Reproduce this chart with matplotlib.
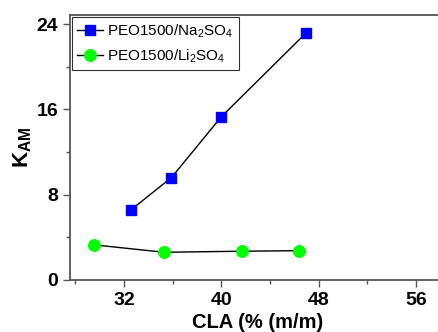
import matplotlib
matplotlib.use("Agg")
import matplotlib.pyplot as plt
from matplotlib.ticker import MultipleLocator

# données
cla_na = [32.6, 35.9, 40.0, 47.0]
kam_na = [6.6, 9.6, 15.3, 23.2]
cla_li = [29.5, 35.3, 41.7, 46.4]
kam_li = [3.3, 2.6, 2.7, 2.75]

plt.rcParams['font.family'] = ['Liberation Sans', 'DejaVu Sans']
plt.rcParams['mathtext.fontset'] = 'custom'
plt.rcParams['mathtext.rm'] = 'Liberation Sans'
plt.rcParams['mathtext.bf'] = 'Liberation Sans:bold'

fig = plt.figure(figsize=(4.38, 3.32), dpi=100)
ax = fig.add_axes([70 / 438, 52 / 332, 375 / 438, 265 / 332])

ax.plot(cla_na, kam_na, color='black', lw=1.0, marker='s', ms=7.5,
        mfc='#0000ff', mec='#0000ff', label='PEO1500/Na$_2$SO$_4$')
ax.plot(cla_li, kam_li, color='black', lw=1.0, marker='o', ms=8.3,
        mfc='#00ff00', mec='#00ff00', label='PEO1500/Li$_2$SO$_4$')

ax.set_xlim(27.56, 58.4)
ax.set_ylim(0, 24.85)
ax.xaxis.set_major_locator(MultipleLocator(8))
ax.xaxis.set_minor_locator(MultipleLocator(4))
ax.yaxis.set_major_locator(MultipleLocator(8))
ax.yaxis.set_minor_locator(MultipleLocator(4))
ax.set_xticks([32, 40, 48, 56])

for s in ax.spines.values():
    s.set_color('#555555')
    s.set_linewidth(1.3)
ax.tick_params(which='major', direction='out', length=5, width=1.0, color='#555555',
               labelsize=14)
ax.tick_params(which='minor', direction='out', length=3, width=1.0, color='#555555')
for lab in ax.get_xticklabels() + ax.get_yticklabels():
    lab.set_fontweight('bold')

ax.set_xlabel('CLA (% (m/m)', fontsize=14.5, fontweight='bold', labelpad=3)
ax.set_ylabel(r'$\mathbf{K_{AM}}$', fontsize=16, labelpad=2)

leg = ax.legend(loc='upper left', fontsize=11, frameon=True, fancybox=False,
                edgecolor='black', borderaxespad=0.1, handlelength=1.7,
                handletextpad=0.3, borderpad=0.35, labelspacing=0.5)
leg.get_frame().set_linewidth(0.8)

fig.savefig('out.png', dpi=100)
